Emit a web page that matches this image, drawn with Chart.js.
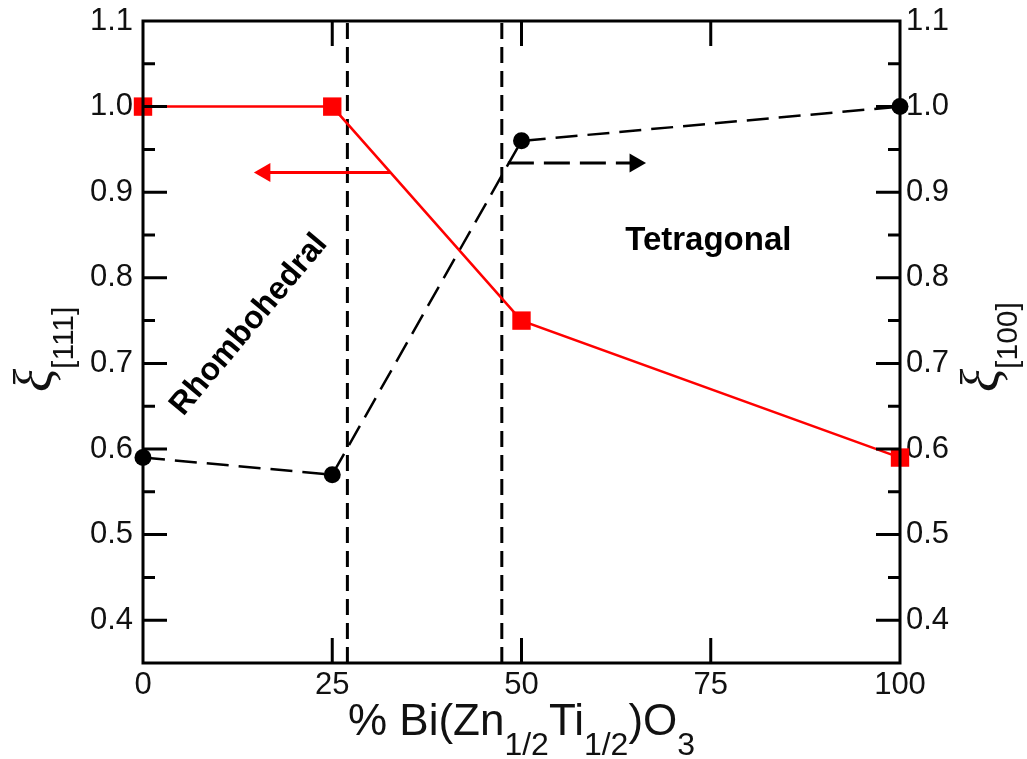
<!DOCTYPE html>
<html><head><meta charset="utf-8">
<script src="https://cdn.jsdelivr.net/npm/chart.js@4/dist/chart.umd.min.js"></script>
<style>html,body{margin:0;padding:0;background:#fff}#wrap{width:1027px;height:759px;position:relative}</style>
</head><body><div id="wrap"><canvas id="c"></canvas></div>
<script>
// ---- data ----
const compositions = [0, 25, 50, 100];          // % Bi(Zn1/2Ti1/2)O3
const xi111 = [1.0, 1.0, 0.75, 0.59];           // left axis, red squares
const xi100 = [0.59, 0.57, 0.96, 1.0];          // right axis, black circles
const phaseBoundaries = [27, 47.4];             // vertical dashed lines
const xTickValues = [0, 25, 50, 75, 100];
const yTickLabels = ['0.4','0.5','0.6','0.7','0.8','0.9','1.0','1.1'];
const redArrowX = [32.7, 16.1], redArrowY = 0.923;
const blackArrowX = [48.2, 65.0], blackArrowY = 0.934;
const phaseNames = ['Rhombohedral', 'Tetragonal'];
const phaseNameX = [14.0, 63.7];
const phaseNameY = [0.745, 0.832];

const FONT = '"Liberation Sans", Arial, sans-serif';
const pts = (xs, ys) => xs.map((x, i) => ({x, y: Array.isArray(ys) ? ys[i] : ys}));

const datasets = [
  {data: pts(compositions, xi111), yAxisID: 'y', borderColor: '#ff0000', borderWidth: 2.5,
   pointStyle: 'rect', pointRadius: 13, pointBackgroundColor: '#ff0000', pointBorderWidth: 0, clip: false},
  {data: pts(compositions, xi100), yAxisID: 'y2', borderColor: '#000', borderWidth: 2.5, borderDash: [22, 10],
   pointStyle: 'circle', pointRadius: 8.5, pointBackgroundColor: '#000', pointBorderWidth: 0, clip: false},
  {data: pts(redArrowX, redArrowY), yAxisID: 'y', borderColor: '#ff0000', borderWidth: 3,
   pointStyle: 'triangle', pointRotation: -90, pointRadius: [0, 11], pointBackgroundColor: '#ff0000', pointBorderWidth: 0, clip: false},
  {data: pts(blackArrowX, blackArrowY), yAxisID: 'y2', borderColor: '#000', borderWidth: 3, borderDash: [26, 10],
   pointStyle: 'triangle', pointRotation: 90, pointRadius: [0, 11], pointBackgroundColor: '#000', pointBorderWidth: 0, clip: false},
];
phaseBoundaries.forEach(b => datasets.push({
  data: [{x: b, y: 0.35}, {x: b, y: 1.1}], yAxisID: 'y', borderColor: '#000', borderWidth: 3,
  borderDash: [16, 8], pointRadius: 0, clip: false
}));

const yLabel = v => { const s = (Math.round(v * 100) / 100).toFixed(1); const k = Math.round(v * 100); return (k % 10 === 0 && yTickLabels.includes(s)) ? s : ''; };

const framePlugin = {
  id: 'frame',
  afterDatasetsDraw(chart) {
    const {ctx, chartArea: a, scales} = chart;
    ctx.save();
    ctx.strokeStyle = '#000'; ctx.lineWidth = 3; ctx.setLineDash([]);
    ctx.strokeRect(a.left, a.top, a.right - a.left, a.bottom - a.top);
    ctx.beginPath();
    scales.y.ticks.forEach(t => {
      const p = scales.y.getPixelForValue(t.value);
      if (p < a.top + 3 || p > a.bottom - 3) return;
      const len = t.label === '' ? 12 : 24;
      ctx.moveTo(a.left, p); ctx.lineTo(a.left + len, p);
    });
    scales.y2.ticks.forEach(t => {
      const p = scales.y2.getPixelForValue(t.value);
      if (p < a.top + 3 || p > a.bottom - 3) return;
      const len = t.label === '' ? 12 : 24;
      ctx.moveTo(a.right, p); ctx.lineTo(a.right - len, p);
    });
    scales.x.ticks.forEach(t => {
      const p = scales.x.getPixelForValue(t.value);
      if (p < a.left + 3 || p > a.right - 3) return;
      ctx.moveTo(p, a.bottom); ctx.lineTo(p, a.bottom - 25);
      ctx.moveTo(p, a.top); ctx.lineTo(p, a.top + 25);
    });
    ctx.stroke();
    ctx.restore();
  },
  afterDraw(chart) {
    const {ctx, chartArea: a, scales} = chart;
    ctx.save();
    ctx.fillStyle = '#111';
    ctx.textBaseline = 'alphabetic'; ctx.textAlign = 'left';
    // x title with subscripts
    const parts = [['% Bi(Zn', 0], ['1/2', 1], ['Ti', 0], ['1/2', 1], [')O', 0], ['3', 1]];
    const mainF = '44px ' + FONT, subF = '32px ' + FONT;
    let total = 0;
    parts.forEach(p => { ctx.font = p[1] ? subF : mainF; total += ctx.measureText(p[0]).width; });
    let x = (a.left + a.right) / 2 - total / 2;
    parts.forEach(p => {
      ctx.font = p[1] ? subF : mainF;
      ctx.fillText(p[0], x, p[1] ? 755 : 735);
      x += ctx.measureText(p[0]).width;
    });
    // y titles (rotated)
    const drawXi = (bx, sbx, sub) => {
      ctx.save();
      ctx.rotate(-Math.PI / 2);
      ctx.font = 'italic 54px "Liberation Serif", serif';
      ctx.fillText('ξ', -392, bx);
      const w = ctx.measureText('ξ').width;
      ctx.font = '30px ' + FONT;
      ctx.fillText(sub, -392 + w, sbx);
      ctx.restore();
    };
    drawXi(52, 73, '[111]');
    drawXi(999, 1017, '[100]');
    // phase names
    ctx.fillStyle = '#000';
    ctx.font = 'bold 33px ' + FONT;
    phaseNames.forEach((name, i) => {
      const px = scales.x.getPixelForValue(phaseNameX[i]);
      const py = scales.y.getPixelForValue(phaseNameY[i]);
      ctx.save();
      ctx.translate(px, py);
      if (i === 0) { ctx.rotate(-50 * Math.PI / 180); ctx.textAlign = 'center'; ctx.textBaseline = 'middle'; ctx.font = 'bold 32px ' + FONT; }
      else { ctx.textAlign = 'left'; ctx.textBaseline = 'alphabetic'; }
      ctx.fillText(name, 0, 0);
      ctx.restore();
    });
    ctx.restore();
  }
};

const yScale = (pos, width, pad) => ({
  type: 'linear', position: pos, min: 0.35, max: 1.1,
  grid: {display: false, drawTicks: false}, border: {display: false},
  ticks: {stepSize: 0.05, autoSkip: false, padding: pad, color: '#111', font: {family: FONT, size: 31}, callback: yLabel},
  afterFit: s => { s.width = width; s.paddingTop = 0; s.paddingBottom = 0; }
});

new Chart(document.getElementById('c'), {
  type: 'line',
  data: {datasets},
  options: {
    responsive: true, maintainAspectRatio: false, animation: false, events: [],
    layout: {padding: {top: 21, left: 0, right: 0, bottom: 0}},
    elements: {line: {tension: 0}},
    plugins: {legend: {display: false}, tooltip: {enabled: false}},
    scales: {
      x: {type: 'linear', min: 0, max: 100,
          grid: {display: false, drawTicks: false}, border: {display: false},
          ticks: {stepSize: 25, autoSkip: false, maxRotation: 0, padding: 4, color: '#111', font: {family: FONT, size: 31},
                  callback: v => xTickValues.includes(v) ? String(v) : ''},
          afterFit: s => { s.height = 96; s.paddingLeft = 0; s.paddingRight = 0; }},
      y: yScale('left', 143, 10),
      y2: yScale('right', 127, 6)
    }
  },
  plugins: [framePlugin]
});
</script>
</body></html>
